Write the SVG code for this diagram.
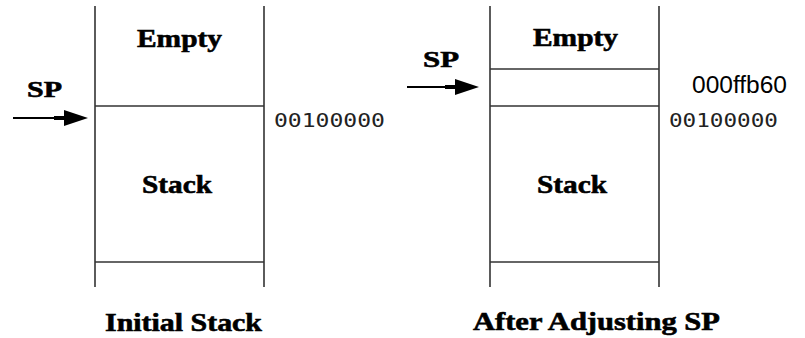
<svg xmlns="http://www.w3.org/2000/svg" width="805" height="338" viewBox="0 0 805 338">
  <style>
    .ln { stroke: #333; stroke-width: 1.6; fill: none; }
    .arr { stroke: #000; stroke-width: 2; fill: none; }
    .head { fill: #000; }
    .bold { font-family: "Liberation Serif", "Times New Roman", serif; font-weight: bold; fill: #000; stroke: #000; stroke-width: 0.6; }
    .mono { font-family: "DejaVu Sans Mono", "Liberation Mono", monospace; font-size: 19px; fill: #222; }
    .addr { font-family: "Liberation Sans", Arial, sans-serif; font-size: 23px; fill: #000; }
  </style>
  <defs>
    <path id="arrowhead" class="head" d="M0,0 L-24,-8 L-24,-2 L-34,-2 L-34,2 L-24,2 L-24,8 Z"/>
  </defs>

  <!-- initial stack -->
  <g id="stack-initial">
    <line class="ln" x1="95" y1="6" x2="95" y2="287"/>
    <line class="ln" x1="264" y1="6" x2="264" y2="287"/>
    <line class="ln" x1="95" y1="106" x2="264" y2="106"/>
    <line class="ln" x1="95" y1="262" x2="264" y2="262"/>
    <text class="bold" x="137" y="47" font-size="26" textLength="85" lengthAdjust="spacingAndGlyphs">Empty</text>
    <text class="bold" x="142" y="193" font-size="26" textLength="70" lengthAdjust="spacingAndGlyphs">Stack</text>
    <text class="mono" x="274" y="127" textLength="111" lengthAdjust="spacingAndGlyphs">00100000</text>
    <text class="bold" x="105" y="331" font-size="26" textLength="157" lengthAdjust="spacingAndGlyphs">Initial Stack</text>
  </g>

  <!-- stack after SP is adjusted -->
  <g id="stack-adjusted">
    <line class="ln" x1="490" y1="6" x2="490" y2="287"/>
    <line class="ln" x1="659" y1="6" x2="659" y2="287"/>
    <line class="ln" x1="490" y1="69" x2="659" y2="69"/>
    <line class="ln" x1="490" y1="106" x2="659" y2="106"/>
    <line class="ln" x1="490" y1="262" x2="659" y2="262"/>
    <text class="bold" x="533" y="46" font-size="26" textLength="85" lengthAdjust="spacingAndGlyphs">Empty</text>
    <text class="bold" x="537" y="193" font-size="26" textLength="70" lengthAdjust="spacingAndGlyphs">Stack</text>
    <text class="addr" x="692" y="93" textLength="95" lengthAdjust="spacingAndGlyphs">000ffb60</text>
    <text class="mono" x="669" y="127" textLength="109" lengthAdjust="spacingAndGlyphs">00100000</text>
    <text class="bold" x="473" y="330" font-size="26" textLength="247" lengthAdjust="spacingAndGlyphs">After Adjusting SP</text>
  </g>

  <!-- stack pointer labels -->
  <g id="sp-initial">
    <text class="bold" x="27" y="97" font-size="24" textLength="35" lengthAdjust="spacingAndGlyphs">SP</text>
  </g>
  <g id="sp-adjusted">
    <text class="bold" x="423" y="67" font-size="24" textLength="36" lengthAdjust="spacingAndGlyphs">SP</text>
  </g>

  <!-- pointer arrows -->
  <g id="connectors">
    <line class="arr" x1="13" y1="118" x2="60" y2="118"/>
    <use href="#arrowhead" x="88" y="118"/>
    <line class="arr" x1="407" y1="87" x2="451" y2="87"/>
    <use href="#arrowhead" x="479" y="87"/>
  </g>
</svg>
